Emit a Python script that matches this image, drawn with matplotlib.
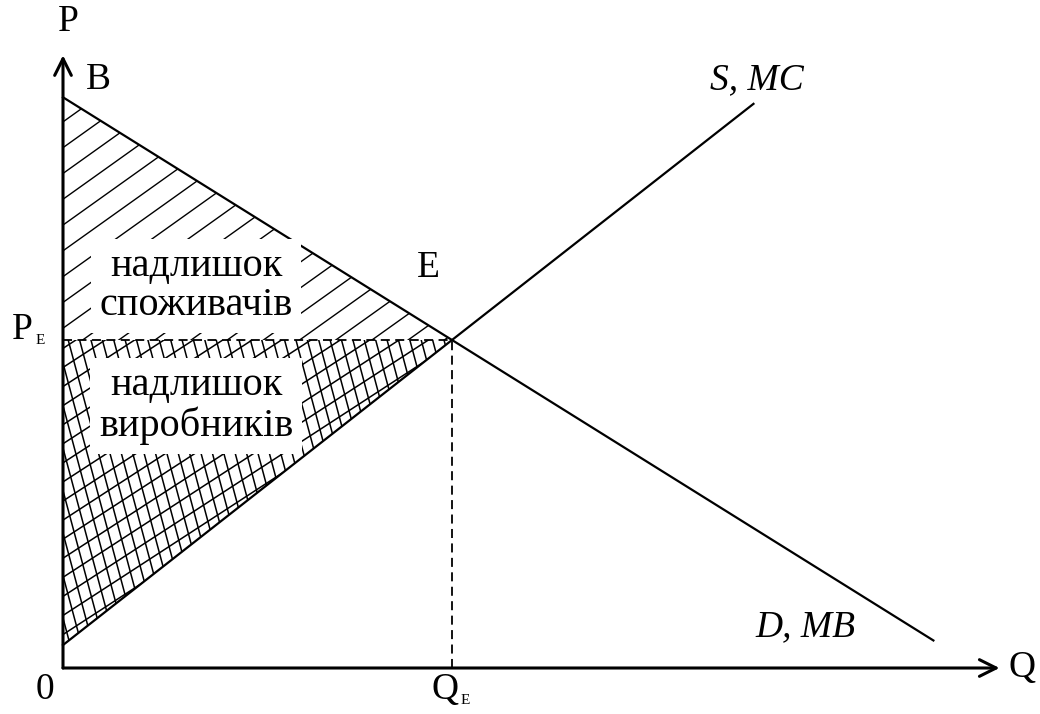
import numpy as np
import matplotlib
matplotlib.use("Agg")
import matplotlib.pyplot as plt
from matplotlib.patches import Polygon

# ---- data (economic model) ----
demand_q = [0.0, 4.0, 8.95]
demand_p = [8.7, 5.0, 0.42]
supply_q = [0.0, 4.0, 7.1]
supply_p = [0.35, 5.0, 8.6]
q_e = 4.0
p_e = 5.0
x_max = 9.63
y_max = 9.34

plt.rcParams['font.family'] = ['Liberation Serif', 'DejaVu Serif']

W, H = 1040, 714
fig = plt.figure(figsize=(W / 100, H / 100), dpi=100)
ax = fig.add_axes([0, 0, 1, 1])
kx, ky = 97.25, 65.6
ox, oy = 63, 714 - 668
ax.set_xlim(-ox / kx, (W - ox) / kx)
ax.set_ylim(-oy / ky, (H - oy) / ky)
ax.axis('off')

lw_line = 1.6

def hatch_lines(poly_pts, angle_deg, spacing_px, lw=1.0):
    """Draw parallel lines (pixel angle) clipped to polygon."""
    poly = Polygon(poly_pts, closed=True, facecolor='none', edgecolor='none')
    ax.add_patch(poly)
    a = np.deg2rad(angle_deg)
    dx, dy = np.cos(a) / kx, np.sin(a) / ky
    nx, ny = -np.sin(a), np.cos(a)
    for k in np.arange(-80, 80):
        off = k * spacing_px
        cx, cy = off * nx / kx, off * ny / ky + 4.0
        t = np.array([-2000, 2000])
        ln, = ax.plot(cx + t * dx, cy + t * dy, color='black', lw=lw)
        ln.set_clip_path(poly)

B = demand_p[0]
hatch_lines([(0, B), (q_e, p_e), (0, p_e)], 35.5, 21, lw=1.0)
ps = [(0, p_e), (q_e, p_e), (0, supply_p[0])]
hatch_lines(ps, 33, 16, lw=1.1)
hatch_lines(ps, -75, 11, lw=1.1)

ax.plot(demand_q, demand_p, color='black', lw=lw_line)
ax.plot(supply_q, supply_p, color='black', lw=lw_line)

ax.plot([0, q_e], [p_e, p_e], color='black', lw=1.3, ls=(0, (5, 3)))
ax.plot([q_e, q_e], [0, p_e], color='black', lw=1.3, ls=(0, (5, 3)))

ax.annotate('', xy=(x_max, 0), xytext=(0, 0),
            arrowprops=dict(arrowstyle='->', lw=2.2, color='black', mutation_scale=30,
                            shrinkA=0, shrinkB=0))
ax.annotate('', xy=(0, y_max), xytext=(0, 0),
            arrowprops=dict(arrowstyle='->', lw=2.2, color='black', mutation_scale=30,
                            shrinkA=0, shrinkB=0))

fs = 27
def px(x, y):
    return ((x - ox) / kx, (H - y - oy) / ky)

ax.text(*px(68, 22), 'P', fontsize=fs, ha='center', va='center')
ax.text(*px(98, 80), 'B', fontsize=fs, ha='center', va='center')
ax.text(*px(22, 330), 'P', fontsize=fs, ha='center', va='center')
ax.text(*px(40, 340), 'E', fontsize=11, ha='center', va='center')
ax.text(*px(428, 268), 'E', fontsize=fs, ha='center', va='center')
ax.text(*px(45, 690), '0', fontsize=fs, ha='center', va='center')
ax.text(*px(445, 690), 'Q', fontsize=fs, ha='center', va='center')
ax.text(*px(465, 700), 'E', fontsize=11, ha='center', va='center')
ax.text(*px(1022, 668), 'Q', fontsize=fs, ha='center', va='center')
ax.text(*px(757, 80), 'S, MC', fontsize=fs, ha='center', va='center', style='italic')
ax.text(*px(805, 627), 'D, MB', fontsize=fs, ha='center', va='center', style='italic')

box = dict(facecolor='white', edgecolor='none', pad=6)
ax.text(*px(196, 286), 'надлишок\nспоживачів', fontsize=29, ha='center', va='center',
        linespacing=1.1, bbox=box)
ax.text(*px(196, 406), 'надлишок\nвиробників', fontsize=29, ha='center', va='center',
        linespacing=1.1, bbox=box)

fig.savefig('out.png', dpi=100)
